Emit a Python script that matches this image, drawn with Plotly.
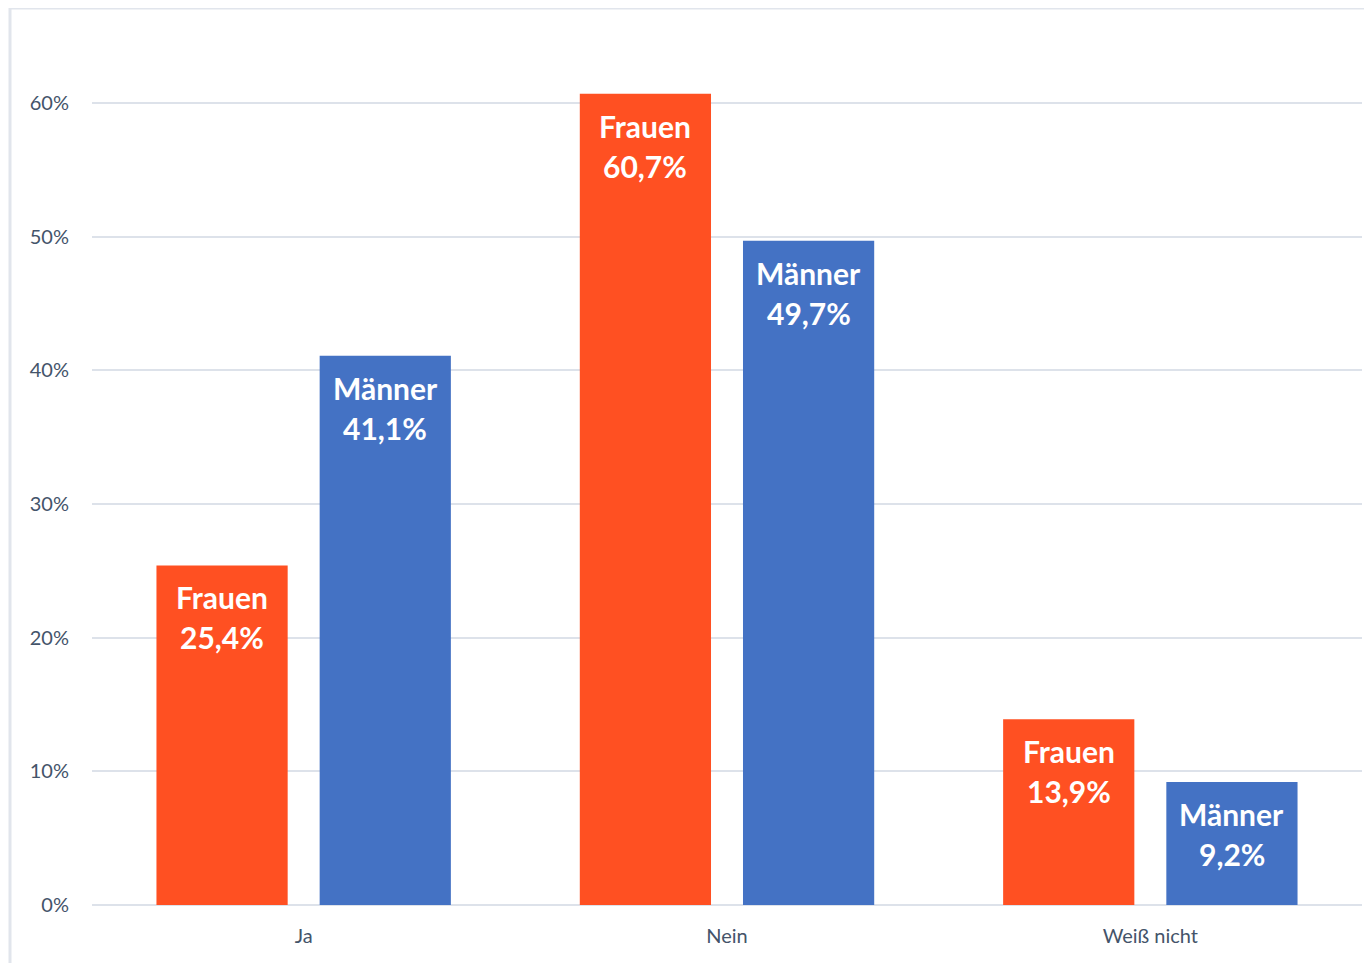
import plotly.graph_objects as go

categories = ["Ja", "Nein", "Weiß nicht"]
series_names = ["Frauen", "Männer"]
frauen = [25.4, 60.7, 13.9]
maenner = [41.1, 49.7, 9.2]
y_ticks = [0, 10, 20, 30, 40, 50, 60]
y_tick_labels = ["0%", "10%", "20%", "30%", "40%", "50%", "60%"]

colors = {"Frauen": "#FF5022", "Männer": "#4472C4"}
values = {"Frauen": frauen, "Männer": maenner}

OFF = 8  # page body margin
W, H = 1372 - OFF, 963 - OFF
ML, MR, MT, MB = 92 - OFF, 10, 30 - OFF, 58
plot_h = H - MT - MB
px_per_unit = (905 - 103) / 60.0
ymax = plot_h / px_per_unit

fig = go.Figure()
for name in series_names:
    fig.add_trace(go.Bar(
        x=categories, y=values[name], name=name,
        marker=dict(color=colors[name], line=dict(width=0)),
        hoverinfo="skip",
    ))

bargap = 0.229
bargroupgap = 0.196
cat_w = (W - ML - MR) / len(categories)
group_w = cat_w * (1 - bargap)
slot = group_w / len(series_names)

annotations = []
for si, name in enumerate(series_names):
    offset = -group_w / 2 + slot * (si + 0.5)
    for ci, cat in enumerate(categories):
        v = values[name][ci]
        txt = f"{v:.1f}".replace(".", ",") + "%"
        for line, shift in ((name, -32), (txt, -72)):
            annotations.append(dict(
                x=cat, y=v, xref="x", yref="y", text=f"<b>{line}</b>",
                showarrow=False, xanchor="center", yanchor="middle",
                xshift=offset, yshift=shift,
                font=dict(family="Lato", size=30, color="white"),
            ))

fig.update_layout(
    width=W, height=H,
    margin=dict(l=ML, r=MR, t=MT, b=MB, pad=0),
    paper_bgcolor="white", plot_bgcolor="white",
    barmode="group", bargap=bargap, bargroupgap=bargroupgap,
    showlegend=False,
    font=dict(family="Lato", color="#44546A"),
    annotations=annotations,
    xaxis=dict(showgrid=False, showline=False, ticks="", zeroline=False,
               tickfont=dict(size=20, color="#44546A"), ticklabelstandoff=17),
    yaxis=dict(range=[0, ymax], tickvals=y_ticks, ticktext=y_tick_labels,
               showgrid=True, gridcolor="#DDE2EA", gridwidth=2,
               zeroline=True, zerolinecolor="#DDE2EA", zerolinewidth=2,
               showline=False, ticks="",
               tickfont=dict(size=20, color="#44546A"), ticklabelstandoff=22),
    shapes=[dict(type="rect", xref="paper", yref="paper",
                 x0=(10 - 92) / (W - ML - MR), x1=1.2,
                 y0=-0.3, y1=(905 - 8) / plot_h,
                 line=dict(color="#E1E5EC", width=3), layer="below")],
)

fig.write_html("out.html")
